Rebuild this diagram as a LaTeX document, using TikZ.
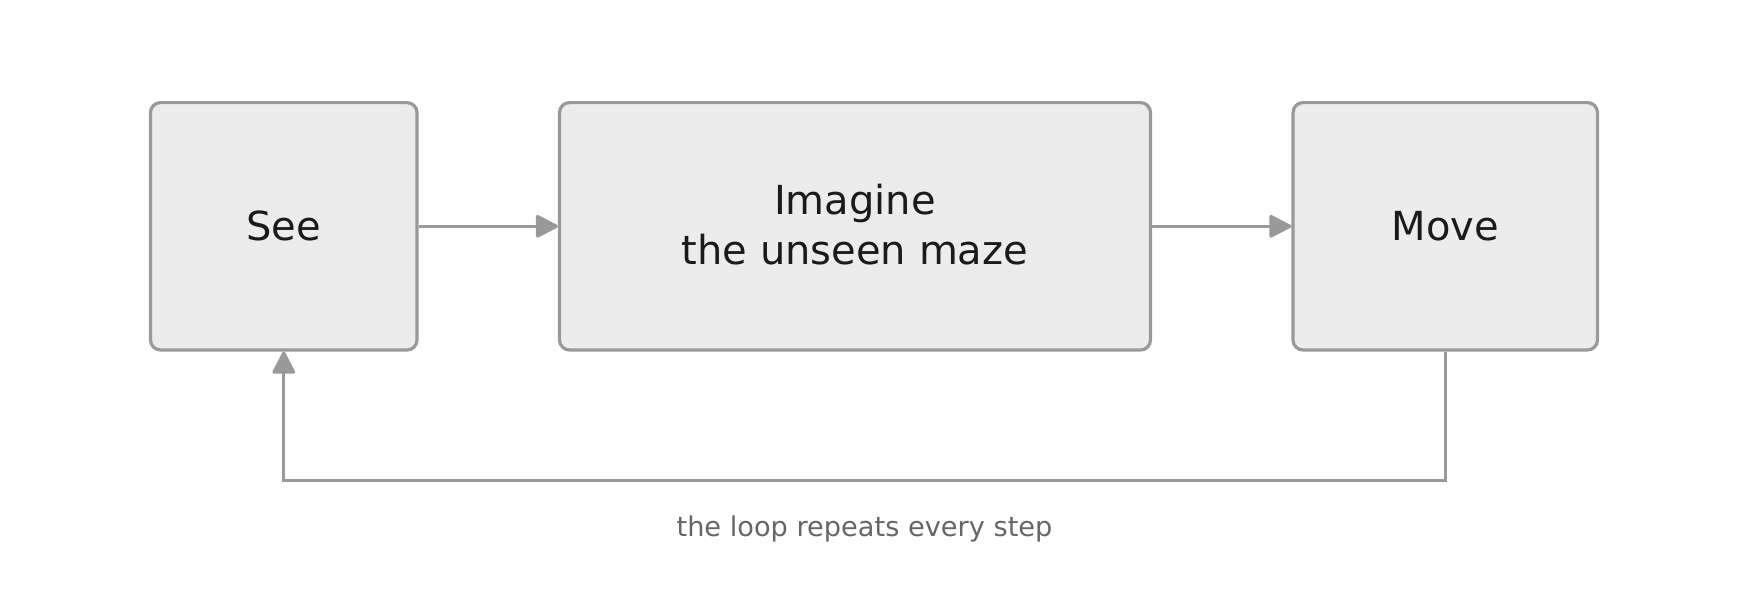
\documentclass[tikz,border=0pt]{standalone}
\usepackage{fontspec}
\setmainfont{DejaVu Sans}
\usetikzlibrary{arrows.meta}
\definecolor{boxfill}{HTML}{ECECEC}
\definecolor{boxline}{HTML}{999999}
\definecolor{txt}{HTML}{1A1A1A}
\definecolor{captxt}{HTML}{666666}
\tikzset{
  stage/.style={draw=boxline, fill=boxfill, line width=3.2pt, rounded corners=10pt,
    minimum height=247.4pt, inner sep=0pt, text=txt, align=center,
    font=\fontsize{40pt}{50.5pt}\selectfont},
  flow/.style={draw=boxline, line width=3.2pt,
    -{Triangle[length=24pt,width=24pt,round]}},
  caption/.style={text=captxt, font=\fontsize{27.2pt}{32pt}\selectfont, inner sep=0pt, anchor=base}
}
\begin{document}
\begin{tikzpicture}[x=1pt,y=-1pt]
\useasboundingbox (0,0) rectangle (1748,594);
\node[stage, minimum width=266.5pt] (see) at (283.75,226.3) {See};
\node[stage, minimum width=591pt] (imagine) at (855,226.3) {Imagine\\the unseen maze\rule[-4pt]{0pt}{4pt}};
\node[stage, minimum width=304.5pt] (move) at (1445.25,226.3) {Move};
\coordinate (loopy) at (0,480.5);
\draw[flow] (see.east) -- (imagine.west);
\draw[flow] (imagine.east) -- (move.west);
\draw[flow] (move.south) -- (move.south |- loopy) -| (see.south);
\node[caption] (cap) at (864.5,536) {the loop repeats every step};
\end{tikzpicture}
\end{document}
